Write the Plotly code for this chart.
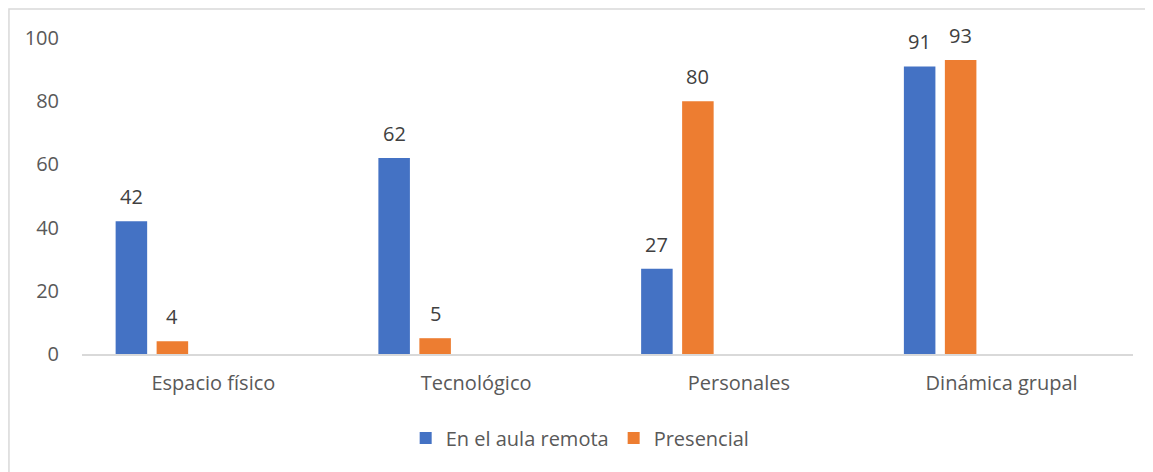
import plotly.graph_objects as go

# === Data ===
categories = ["Espacio físico", "Tecnológico", "Personales", "Dinámica grupal"]
remota = [42, 62, 27, 91]
presencial = [4, 5, 80, 93]

FONT = "Open Sans, Noto Sans, sans-serif"
BLUE = "#4472C4"
ORANGE = "#ED7D31"
BAR_W = 0.12
OFFSETS = {"remota": -0.372, "presencial": -0.216}

fig = go.Figure()

fig.add_trace(go.Bar(
    x=categories, y=remota, name="En el aula remota",
    marker=dict(color=BLUE, line=dict(width=0)),
    width=BAR_W, offset=OFFSETS["remota"],
))
fig.add_trace(go.Bar(
    x=categories, y=presencial, name="Presencial",
    marker=dict(color=ORANGE, line=dict(width=0)),
    width=BAR_W, offset=OFFSETS["presencial"],
))

# === Data labels, a bit further above the bars than Plotly's default ===
for key, values in (("remota", remota), ("presencial", presencial)):
    for i, v in enumerate(values):
        fig.add_annotation(
            x=i + OFFSETS[key] + BAR_W / 2, y=v, text=str(v),
            xref="x", yref="y", showarrow=False,
            yanchor="bottom", yshift=9,
            font=dict(size=20, color="#404040", family=FONT),
        )

# outer chart border (Excel style)
fig.add_shape(type="rect", xref="paper", yref="paper",
              x0=-0.0695, x1=1.1, y0=-0.5, y1=1.092,
              line=dict(color="#D9D9D9", width=1.5), fillcolor="rgba(0,0,0,0)",
              layer="below")

fig.update_layout(
    width=1153, height=472,
    margin=dict(l=74, r=28, t=30, b=126),
    plot_bgcolor="white", paper_bgcolor="white",
    font=dict(family=FONT, size=20, color="#595959"),
    barmode="overlay",
    showlegend=True,
    legend=dict(orientation="h", x=0.474, xanchor="center", y=-0.266, yanchor="middle",
                font=dict(size=20, color="#595959"), itemwidth=30,
                traceorder="normal"),
    xaxis=dict(showline=True, linecolor="#D9D9D9", linewidth=1.5,
               ticks="", showgrid=False, tickfont=dict(size=20),
               ticklabelstandoff=10),
    yaxis=dict(range=[0, 100], dtick=20, showgrid=False, zeroline=False,
               showline=False, ticks="", tickfont=dict(size=20),
               ticklabelstandoff=22),
)

fig.write_html("out.html")
